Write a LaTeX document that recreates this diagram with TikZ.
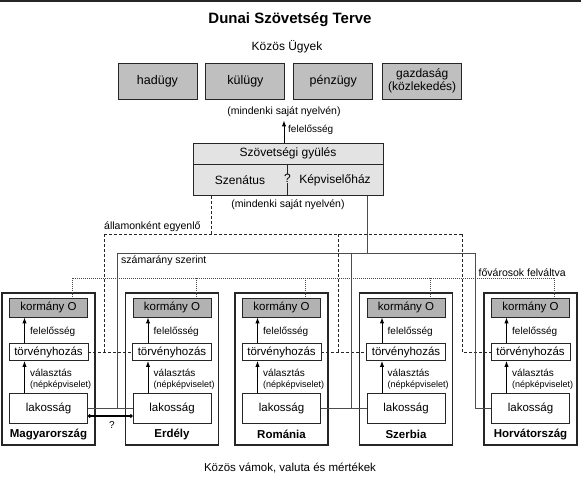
\documentclass[tikz,border=0pt]{standalone}
\usepackage{fontspec}
\setmainfont{Liberation Sans}
\usetikzlibrary{calc}
\usetikzlibrary{positioning}
\usetikzlibrary{arrows.meta}

\begin{document}
\begin{tikzpicture}[x=1pt, y=-1pt, >={Latex[length=6pt,width=4.5pt]},
    box/.style={rectangle, draw=black!85, line width=0.9pt, inner sep=0pt, align=center},
    gbox/.style={box, fill=black!25, minimum width=79pt, minimum height=36pt, font=\fontsize{12.5}{13.5}\selectfont},
    abox/.style={box, fill=black!11, font=\fontsize{12}{14}\selectfont},
    cbox/.style={box, line width=1.3pt, minimum width=93pt, minimum height=152pt},
    kbox/.style={box, fill=black!30, minimum width=78pt, minimum height=19pt, font=\fontsize{11.5}{13}\selectfont},
    tbox/.style={box, fill=white, minimum width=79pt, minimum height=17pt, font=\fontsize{11.5}{13}\selectfont},
    lbl/.style={inner sep=0pt, font=\fontsize{10}{11}\selectfont},
    cname/.style={inner sep=0pt, font=\bfseries\fontsize{11.5}{13}\selectfont},
    eqline/.style={black!85, line width=0.8pt, dashed, dash pattern=on 3pt off 2pt},
    prline/.style={black!70, line width=1pt},
    capline/.style={black!70, line width=0.6pt, dash pattern=on 1pt off 1pt},
  ]
\useasboundingbox (0,0) rectangle (581,485);
\fill[white] (0,0) rectangle (581,485);
\fill[black!85] (0,0) rectangle (581,2);

% Title and common affairs
\node[font=\bfseries\fontsize{15}{17}\selectfont] (title) at (290,20) {Dunai Szövetség Terve};
\node[font=\fontsize{12}{14}\selectfont] (common) at (287,47) {Közös Ügyek};
\node[gbox] (war) at (157.5,81) {hadügy};
\node[gbox, right=8pt of war] (foreign) {külügy};
\node[gbox, right=8pt of foreign] (finance) {pénzügy};
\node[gbox, right=9pt of finance, font=\fontsize{12}{13}\selectfont] (economy) {gazdaság\\(közlekedés)};
\node[font=\fontsize{10.5}{12}\selectfont] (langtop) at (284,112) {(mindenki saját nyelvén)};

% Federal assembly
\node[abox, minimum width=190pt, minimum height=21pt] (assembly) at (288,153.5) {Szövetségi gyülés};
\node[abox, minimum width=94pt, minimum height=31pt, anchor=north west] (senate) at (assembly.south west) {Szenátus};
\node[abox, minimum width=96pt, minimum height=31pt, anchor=north east] (house) at (assembly.south east) {Képviselőház};
\node[fill=black!11, inner sep=0.6pt, font=\fontsize{12}{14}\selectfont] (undecided) at ([yshift=2pt]senate.east) {?};
\node[font=\fontsize{10.5}{12}\selectfont] (langbot) at (288,205) {(mindenki saját nyelvén)};
\draw[->, line width=1pt] (assembly.north -| langtop) -- (langtop.south);
\node[lbl, anchor=west] (resp) at (288,130) {felelősség};

% Member states
\foreach \n/\cx/\land in {mo/48.5/Magyarország, er/172/Erdély, ro/281.5/Románia, sz/406/Szerbia, hr/530.5/Horvátország}{
  \node[cbox] (\n) at (\cx,369) {};
  \node[kbox] (\n-gov) at (\cx,307.5) {kormány O};
  \node[tbox] (\n-leg) at (\cx,352) {törvényhozás};
  \node[tbox, minimum width=78pt, minimum height=30pt] (\n-pop) at (\cx,408) {lakosság};
  \node[cname] (\n-name) at (\cx,434) {\land};
  \draw[->, line width=1pt] ([xshift=-24pt]\n-pop.north) -- ([xshift=-24pt]\n-leg.south);
  \draw[->, line width=1pt] ([xshift=-24pt]\n-leg.north) -- ([xshift=-24pt]\n-gov.south);
  \node[lbl, anchor=west] (\n-resp) at (\cx-18.5,332) {felelősség};
  \node[lbl, anchor=west, align=left] (\n-vote) at (\cx-18.5,379) {választás\\{\fontsize{9}{10}\selectfont(népképviselet)}};
  \coordinate (\n-cap) at (\cx+24,278);
}

% államonként egyenlő
\coordinate (eqtop) at (211,234);
\coordinate (eqL) at (104,234);
\coordinate (eqM) at (338,234);
\coordinate (eqR) at (462,234);
\draw[eqline] (eqtop |- senate.south) -- (eqtop);
\draw[eqline] (eqL) -- (eqR);
\draw[eqline] (eqL) -- (eqL |- mo-leg.east);
\draw[eqline] (mo-leg.east) -- (er-leg.west);
\draw[eqline] (eqM) -- (eqM |- ro-leg.east);
\draw[eqline] (ro-leg.east) -- (sz-leg.west);
\draw[eqline] (eqR) -- (eqR |- hr-leg.west) -- (hr-leg.west);
\node[lbl, anchor=south west, font=\fontsize{10.5}{12}\selectfont] (equal) at ([yshift=2pt]eqL) {államonként egyenlő};

% számarány szerint
\coordinate (prtop) at (367,253);
\coordinate (prL) at (117,253);
\coordinate (prM) at (351,253);
\coordinate (prR) at (475,253);
\draw[prline] (prtop |- house.south) -- (prtop);
\draw[prline] (prL) -- (prR);
\draw[prline] (prL) -- (prL |- mo-pop.east);
\draw[prline] (mo-pop.east) -- (er-pop.west);
\draw[prline] (prM) -- (prM |- ro-pop.east);
\draw[prline] (ro-pop.east) -- (sz-pop.west);
\draw[prline] (prR) -- (prR |- hr-pop.west) -- (hr-pop.west);
\node[lbl, anchor=north west, font=\fontsize{10.5}{12}\selectfont] (ratio) at ([xshift=4pt,yshift=-3pt]prL) {számarány szerint};

% fővárosok felváltva
\draw[capline] (mo-cap) -- (hr-cap);
\foreach \n in {mo,er,ro,sz,hr}
  \draw[capline] (\n-cap) -- ([xshift=24pt]\n-gov.north);
\node[lbl, anchor=south west, font=\fontsize{10.5}{12}\selectfont] (capitals) at ([xshift=-76pt,yshift=1.5pt]hr-cap) {fővárosok felváltva};

% Magyarország -- Erdély
\draw[{Circle[length=3.5pt]}-{Circle[length=3.5pt]}, line width=1.1pt] ([yshift=-8pt]mo-pop.east) -- ([yshift=-8pt]er-pop.west);
\node[lbl] (mqq) at (112,425) {?};

\node[font=\fontsize{11.5}{13}\selectfont] (customs) at (290,468) {Közös vámok, valuta és mértékek};
\end{tikzpicture}
\end{document}
